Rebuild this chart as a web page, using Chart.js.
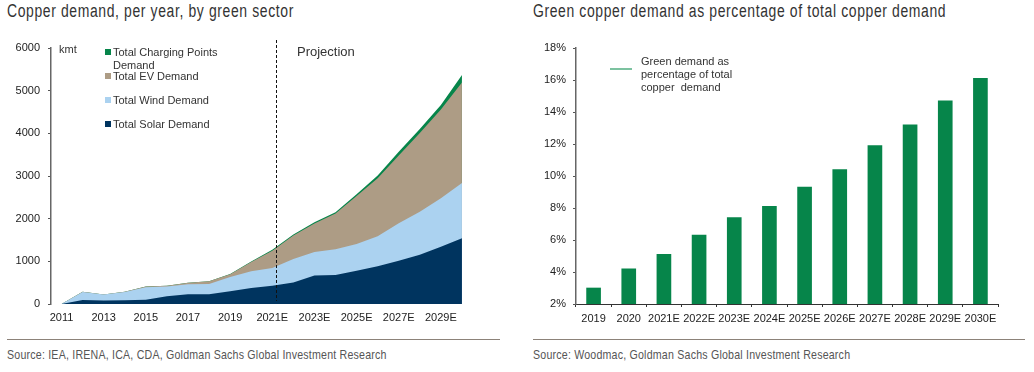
<!DOCTYPE html>
<html>
<head>
<meta charset="utf-8">
<script src="https://cdn.jsdelivr.net/npm/chart.js@4"></script>
<style>
  html, body { margin: 0; padding: 0; background: #fff; }
  body { position: relative; width: 1034px; height: 372px; overflow: hidden; }
  canvas { position: absolute; top: 0; }
  .title { position: absolute; top: 0; font: 18px "Liberation Sans", sans-serif; letter-spacing: 0.8px; color: #333; white-space: nowrap; line-height: 22px; transform: scaleX(0.775); transform-origin: left top; }
  .rule { position: absolute; top: 339px; height: 1px; background: #8c8279; }
  .source { position: absolute; top: 347px; font: 13px "Liberation Sans", sans-serif; letter-spacing: 0.25px; color: #555; white-space: nowrap; transform: scaleX(0.817); transform-origin: left top; }
  .note { position: absolute; font: 11px "Liberation Sans", sans-serif; color: #333; white-space: nowrap; line-height: 13px; }
  .swatch { position: absolute; width: 6px; height: 6px; }
</style>
</head>
<body>
<div class="title" style="left:7px">Copper demand, per year, by green sector</div>
<div class="title" style="left:533px">Green copper demand as percentage of total copper demand</div>
<canvas id="demandChart" width="510" height="335" style="left:0"></canvas>
<canvas id="shareChart" width="510" height="335" style="left:524px"></canvas>
<div class="rule" style="left:7px;width:493px"></div>
<div class="rule" style="left:533px;width:492px"></div>
<div class="source" style="left:7px">Source: IEA, IRENA, ICA, CDA, Goldman Sachs Global Investment Research</div>
<div class="source" style="left:533px">Source: Woodmac, Goldman Sachs Global Investment Research</div>
<div class="note" style="left:59px;top:43px">kmt</div>
<div class="note" style="left:297px;top:45px;font-size:13px">Projection</div>
<div id="demandLegend"></div>
<div class="note" style="left:641px;top:55px">Green demand as<br>percentage of total<br>copper&nbsp; demand</div>
<div style="position:absolute;left:610px;top:68px;width:22px;height:2px;background:#7cc2a0"></div>
<script>
// Left chart (kmt per year, not cumulative)
const years = ["2011","2012","2013","2014","2015","2016","2017","2018","2019","2020","2021E","2022E","2023E","2024E","2025E","2026E","2027E","2028E","2029E","2030E"];
const solar = [0,95,80,85,100,180,230,230,300,375,425,504,670,677,780,882,1016,1157,1339,1543];
const wind = [0,185,140,195,290,230,230,240,330,395,417,551,550,606,629,708,874,1008,1141,1292];
const ev = [0,5,5,5,20,15,40,65,70,215,408,551,669,837,1121,1355,1590,1845,2080,2355];
const charging = [0,0,0,0,0,0,0,0,5,10,20,20,25,30,40,65,90,90,105,177];

// Right chart
const shareYears = ["2019","2020","2021E","2022E","2023E","2024E","2025E","2026E","2027E","2028E","2029E","2030E"];
const greenShare = [3.0,4.2,5.1,6.3,7.4,8.1,9.3,10.4,11.9,13.2,14.7,16.1];

const legendItems = [
  { label: "Total Charging Points<br>Demand", color: "#06854a", top: 46 },
  { label: "Total EV Demand", color: "#ad9c85", top: 70 },
  { label: "Total Wind Demand", color: "#abd2f0", top: 94 },
  { label: "Total Solar Demand", color: "#00345f", top: 118 },
];

const projectionStart = 10.2; // category position of the dashed line
const tickFont = { family: "Liberation Sans", size: 11 };

const legendBox = document.getElementById("demandLegend");
legendItems.forEach((item) => {
  legendBox.insertAdjacentHTML("beforeend",
    `<div class="swatch" style="left:105px;top:${item.top + 3}px;background:${item.color}"></div>` +
    `<div class="note" style="left:113px;top:${item.top}px">${item.label}</div>`);
});

// Dashed vertical line that marks where the projection begins
const projectionLine = {
  id: "projectionLine",
  afterDatasetsDraw(chart) {
    const { ctx, chartArea, scales } = chart;
    const x = scales.x.getPixelForValue(projectionStart);
    ctx.save();
    ctx.strokeStyle = "#111";
    ctx.lineWidth = 1;
    ctx.setLineDash([3, 2]);
    ctx.beginPath();
    ctx.moveTo(x, chartArea.top - 8);
    ctx.lineTo(x, chartArea.bottom - 3);
    ctx.stroke();
    ctx.restore();
  },
};

function areaSet(label, data, color) {
  return { label, data, backgroundColor: color, borderColor: color, borderWidth: 0, pointRadius: 0, tension: 0, fill: true };
}

new Chart(document.getElementById("demandChart"), {
  type: "line",
  data: {
    labels: years,
    datasets: [
      areaSet("Total Solar Demand", solar, "#00345f"),
      areaSet("Total Wind Demand", wind, "#abd2f0"),
      areaSet("Total EV Demand", ev, "#ad9c85"),
      areaSet("Total Charging Points Demand", charging, "#06854a"),
    ],
  },
  options: {
    responsive: false,
    animation: false,
    layout: { padding: { left: 0, right: 37.5, top: 48, bottom: 0 } },
    plugins: { legend: { display: false }, tooltip: { enabled: false } },
    scales: {
      x: {
        stacked: true,
        offset: true,
        afterFit(scale) { scale.height = 31; },
        grid: { display: false, drawTicks: false },
        border: { display: false },
        ticks: {
          autoSkip: false,
          maxRotation: 0,
          color: "#222",
          font: tickFont,
          padding: 7,
          callback(value, index) {
            return index % 2 === 0 ? years[index] : "";
          },
        },
      },
      y: {
        stacked: true,
        min: 0,
        max: 6000,
        afterFit(scale) { scale.width = 51; },
        grid: { drawOnChartArea: false, tickLength: 3, color: "#555" },
        border: { display: true, color: "#666", width: 1.5 },
        ticks: { stepSize: 1000, color: "#222", font: tickFont, padding: 8, callback: (v) => String(v) },
      },
    },
  },
  plugins: [projectionLine],
});

new Chart(document.getElementById("shareChart"), {
  type: "bar",
  data: {
    labels: shareYears,
    datasets: [{ label: "Green demand as percentage of total copper demand", data: greenShare, backgroundColor: "#06854a", barThickness: 14 }],
  },
  options: {
    responsive: false,
    animation: false,
    layout: { padding: { left: 0, right: 36, top: 48, bottom: 0 } },
    plugins: { legend: { display: false }, tooltip: { enabled: false } },
    scales: {
      x: {
        afterFit(scale) { scale.height = 31; },
        grid: { display: true, drawOnChartArea: false, tickLength: 3, color: "#333" },
        border: { display: true, color: "#333", width: 1 },
        ticks: { autoSkip: false, maxRotation: 0, color: "#222", font: tickFont, padding: 5 },
      },
      y: {
        min: 2,
        max: 18,
        afterFit(scale) { scale.width = 52; },
        grid: { drawOnChartArea: false, tickLength: 3, color: "#555" },
        border: { display: true, color: "#666", width: 1.5 },
        ticks: { stepSize: 2, color: "#222", font: tickFont, padding: 7, callback: (v) => v + "%" },
      },
    },
  },
});
</script>
</body>
</html>
